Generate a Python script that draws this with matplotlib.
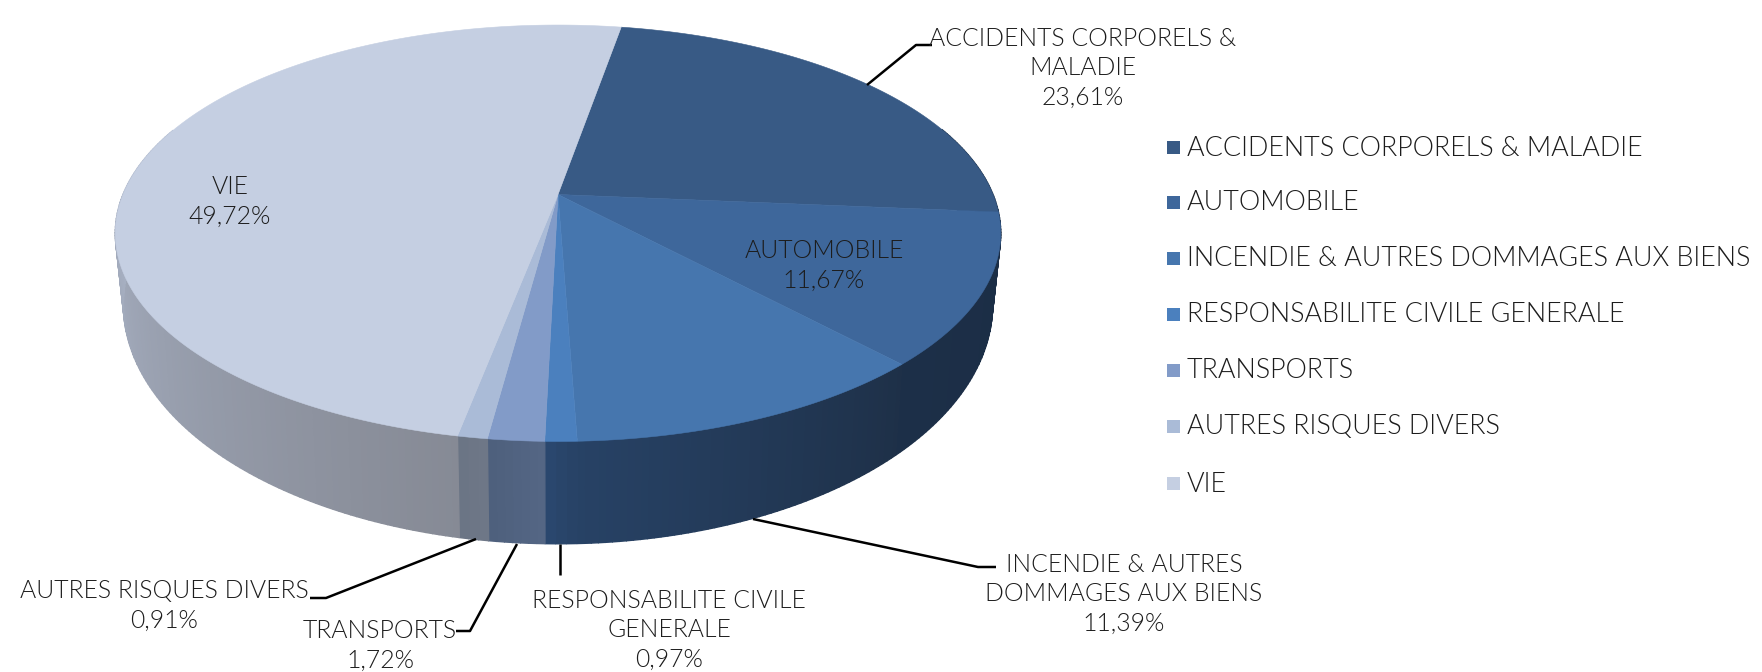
import numpy as np
import matplotlib
matplotlib.use("Agg")
import matplotlib.pyplot as plt
from matplotlib.patches import Rectangle
from matplotlib import font_manager as fm

categories = ["ACCIDENTS CORPORELS & MALADIE", "AUTOMOBILE", "INCENDIE & AUTRES DOMMAGES AUX BIENS",
              "RESPONSABILITE CIVILE GENERALE", "TRANSPORTS", "AUTRES RISQUES DIVERS", "VIE"]
values = [23.61, 11.67, 11.39, 0.97, 1.72, 0.91, 49.72]
label_names = ["ACCIDENTS CORPORELS &\nMALADIE", "AUTOMOBILE", "INCENDIE & AUTRES\nDOMMAGES AUX BIENS",
               "RESPONSABILITE CIVILE\nGENERALE", "TRANSPORTS", "AUTRES RISQUES DIVERS", "VIE"]

top_colors = ["#385A85", "#3E679B", "#4676AE", "#4B80BE", "#829BC8", "#AABBD7", "#C5CFE2"]
wall_colors = [("#1C2E45", "#1C2E45"), ("#1B2D45", "#1C2F48"), ("#1E3048", "#274265"), ("#274265", "#2A4870"),
               ("#556785", "#4D5F7C"), ("#6F7888", "#6A7484"), ("#868A95", "#D3E3FF")]

label_pos = [(1083, 68), (824, 266), (1124, 594), (669, 630), (380, 646), (164, 606), (230, 202)]
leaders = [[(867, 85), (916, 45), (932, 45)], None, [(753, 519), (978, 567), (996, 567)],
           [(560, 544), (560, 575)], [(517, 544), (470, 631), (456, 631)], [(476, 539), (326, 598), (310, 598)], None]
legend_y = [148, 203, 259, 315, 371, 427, 484]

def pick_font():
    for wanted in ("Lato-Light.ttf", "Lato-Light.otf", "Roboto-Light.ttf", "OpenSans-Light.ttf", "NotoSans-Light.ttf"):
        for f in fm.fontManager.ttflist:
            if f.fname.endswith(wanted):
                return dict(fname=f.fname)
    return dict(family="Lato")
FONT = pick_font()
TXT = "#1c1c1c"

fig = plt.figure(figsize=(17.62, 6.72), dpi=100)
ax = fig.add_axes([0, 0, 1, 1])
ax.set_xlim(0, 1762); ax.set_ylim(672, 0); ax.axis("off")

CX, K = 558.0, 0.186
START = 9.9

def rim(theta_deg, cy, a, b):
    t = np.radians(theta_deg)
    u, v = np.sin(t), np.cos(t)
    d = 1 + K * v
    return CX + a * u / d, cy - b * v / d

def top(t): return rim(t, 194.5, 435.0, 201.0)
def bot(t): return rim(t, 260.0, 427.0, 231.0)

edges = START + np.cumsum([0] + values) / sum(values) * 360

def mix(c1, c2, f):
    a, b = np.array(matplotlib.colors.to_rgb(c1)), np.array(matplotlib.colors.to_rgb(c2))
    return tuple(a + (b - a) * f)

# side wall
for i in range(len(values)):
    t0, t1 = edges[i], edges[i + 1]
    ts = np.linspace(t0, t1, max(3, int((t1 - t0) / 0.75)))
    for j in range(len(ts) - 1):
        mid = 0.5 * (ts[j] + ts[j + 1])
        if not 70 < mid % 360 < 290:
            continue
        f = (j + 0.5) / (len(ts) - 1)
        col = mix(wall_colors[i][0], wall_colors[i][1], f)
        xt, yt = top(ts[j:j + 2])
        xb, yb = bot(ts[j:j + 2][::-1])
        ax.fill(np.r_[xt, xb], np.r_[yt, yb], color=col, lw=1.0, zorder=1)

# top faces
for i in range(len(values)):
    ts = np.linspace(edges[i], edges[i + 1], 200)
    x, y = top(ts)
    ax.fill(np.r_[CX, x], np.r_[194.5, y], color=top_colors[i], lw=0.4, zorder=2)

# data labels
for name, val, pos, lead in zip(label_names, values, label_pos, leaders):
    txt = name + "\n" + f"{val:.2f}".replace(".", ",") + "%"
    prop = fm.FontProperties(size=17.8, **FONT)
    ax.text(pos[0], pos[1], txt, ha="center", va="center", fontproperties=prop, color=TXT,
            linespacing=1.28, zorder=5)
    if lead:
        ax.plot(*zip(*lead), color="black", lw=1.8, zorder=3, solid_capstyle="butt")

# legend
for name, col, y in zip(categories, top_colors, legend_y):
    ax.add_patch(Rectangle((1167, y - 7), 13, 13, color=col, lw=0))
    prop = fm.FontProperties(size=19.4, **FONT)
    ax.text(1187, y, name, ha="left", va="center", fontproperties=prop, color=TXT)

fig.savefig("out.png", dpi=100)
